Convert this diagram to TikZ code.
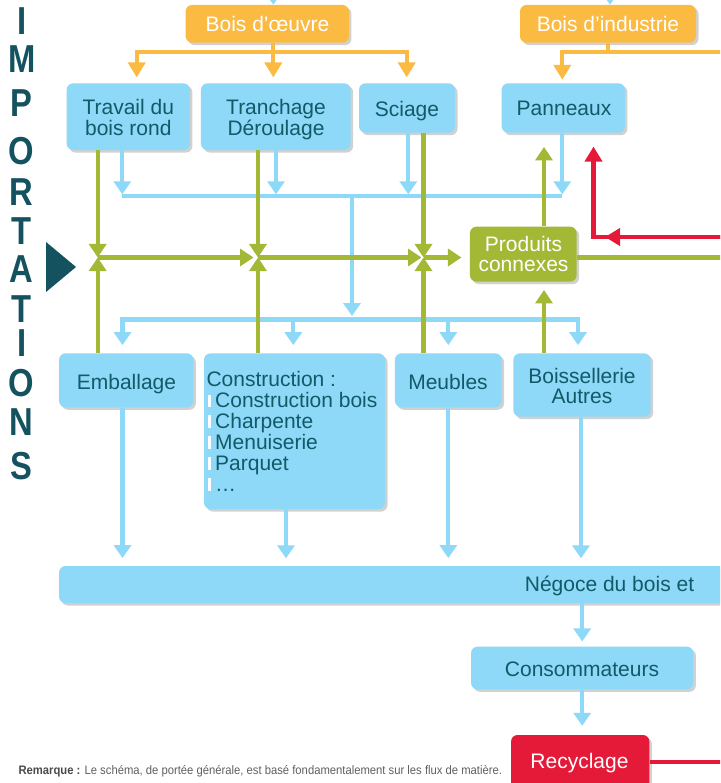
\documentclass[tikz,border=0pt]{standalone}
\usepackage{fontspec}
\usepackage{graphicx}
\setmainfont{Liberation Sans}
\usetikzlibrary{arrows.meta,shadows}
\definecolor{cblue}{HTML}{8ED8F8}
\definecolor{corange}{HTML}{FBBA42}
\definecolor{cgreen}{HTML}{A3B936}
\definecolor{cred}{HTML}{E41A38}
\definecolor{ctext}{HTML}{135A68}
\definecolor{cimp}{HTML}{14525F}
\definecolor{cgray}{HTML}{5F6062}
\definecolor{cgraydark}{HTML}{4A4B4D}
\newcommand\impl[1]{\scalebox{0.84}[1]{#1}}
\tikzset{
  box/.style={rounded corners=6.5pt, draw=none, inner sep=0pt,
    drop shadow={shadow xshift=2.5pt, shadow yshift=-2.5pt, opacity=0.18, fill=black}},
  bbox/.style={box, fill=cblue},
  obox/.style={box, fill=corange},
  gbox/.style={box, fill=cgreen},
  rbox/.style={box, fill=cred},
  txt/.style={anchor=base, inner sep=0pt, font=\fontsize{21}{21}\selectfont, text=ctext},
  ltxt/.style={txt, anchor=base west},
  wtxt/.style={txt, text=white},
  imp/.style={anchor=base, inner sep=0pt, font=\fontsize{39}{39}\selectfont\bfseries, text=cimp},
  bline/.style={line width=4.2pt, draw=cblue},
  barr/.style={bline, -{Triangle[width=17pt,length=13pt]}},
  gline/.style={line width=4.2pt, draw=cgreen},
  garr/.style={gline, -{Triangle[width=17pt,length=13.5pt]}},
  oline/.style={line width=4.2pt, draw=corange},
  oarr/.style={oline, -{Triangle[width=17pt,length=15pt]}},
  rline/.style={line width=4.2pt, draw=cred},
  rarr/.style={rline, -{Triangle[width=17pt,length=15pt]}},
}
\begin{document}
\begin{tikzpicture}[x=1pt,y=-1pt]
\fill[white] (0,0) rectangle (720,783);
\useasboundingbox (0,0) rectangle (720,783);
\begin{scope}
\clip (0,0) rectangle (720,783);

% ---------- boxes ----------
\node[obox, minimum width=163.3pt, minimum height=37.7pt] (oeuvre) at (267.3,23.8) {};
\node[obox, minimum width=176pt, minimum height=37.7pt] (industrie) at (608,23.8) {};
\node[bbox, minimum width=123.3pt, minimum height=66.7pt] (travail) at (128.3,116.7) {};
\node[bbox, minimum width=149.7pt, minimum height=66.7pt] (tranchage) at (275.8,116.7) {};
\node[bbox, minimum width=96pt, minimum height=49.4pt] (sciage) at (407,108) {};
\node[bbox, minimum width=123.3pt, minimum height=49.4pt] (panneaux) at (563.3,108) {};
\node[gbox, minimum width=106.7pt, minimum height=55pt] (produits) at (523.3,254.2) {};
\node[bbox, minimum width=134.3pt, minimum height=54pt] (emballage) at (126.2,380.3) {};
\node[bbox, minimum width=181pt, minimum height=155.7pt] (construction) at (294.5,431.2) {};
\node[bbox, minimum width=106.7pt, minimum height=54pt] (meubles) at (448.3,380.3) {};
\node[bbox, minimum width=137.3pt, minimum height=63.3pt] (boissellerie) at (582,385) {};
\node[bbox, minimum width=681pt, minimum height=37pt] (negoce) at (399.5,584.5) {};
\node[bbox, minimum width=222.3pt, minimum height=42.7pt] (consommateurs) at (582.2,668) {};
\node[rbox, minimum width=138.3pt, minimum height=54pt] (recyclage) at (580.2,762) {};

% ---------- texts ----------
\node[wtxt] (toeuvre) at (267.5,31.7) {Bois d’œuvre};
\node[wtxt] (tindustrie) at (608,31.7) {Bois d’industrie};
\node[txt] (ttravaila) at (128.3,115) {Travail du};
\node[txt] (ttravailb) at (128.3,135.5) {bois rond};
\node[txt] (ttranchagea) at (276,115) {Tranchage};
\node[txt] (ttranchageb) at (276,135.5) {Déroulage};
\node[txt] (tsciage) at (407,117) {Sciage};
\node[txt] (tpanneaux) at (564,116) {Panneaux};
\node[wtxt] (tproduitsa) at (523.5,252) {Produits};
\node[wtxt] (tproduitsb) at (523.5,272) {connexes};
\node[txt] (temballage) at (126.5,389.3) {Emballage};
\node[txt] (tmeubles) at (448,389) {Meubles};
\node[txt] (tboisa) at (582,383) {Boissellerie};
\node[txt] (tboisb) at (582,403.5) {Autres};
\node[txt] (tnegoce) at (609.5,591.7) {Négoce du bois et};
\node[txt] (tconso) at (582,676) {Consommateurs};
\node[wtxt] (trecyclage) at (579.5,768) {Recyclage};
% construction list
\node[ltxt] (tc0) at (206.3,386.7) {Construction :};
\node[ltxt] (tc1) at (215,407.5) {Construction bois};
\node[ltxt] (tc2) at (215,428.4) {Charpente};
\node[ltxt] (tc3) at (215,449.3) {Menuiserie};
\node[ltxt] (tc4) at (215,470.2) {Parquet};
\node[ltxt] (tc5) at (215,491.1) {…};
\foreach \b in {407.5,428.4,449.3,470.2,491.1}
  \fill[white] (208.3,\b-13) rectangle (210.7,\b-0.6);

% ---------- IMPORTATIONS ----------
\node[imp] (L1) at (21.7,35) {\impl{I}};
\node[imp] (L2) at (21.7,72.7) {\impl{M}};
\node[imp] (L3) at (21.7,117) {\impl{P}};
\node[imp] (L4) at (21.7,164.5) {\impl{O}};
\node[imp] (L5) at (21.7,206) {\impl{R}};
\node[imp] (L6) at (21.7,245) {\impl{T}};
\node[imp] (L7) at (21.7,283) {\impl{A}};
\node[imp] (L8) at (21.7,322.5) {\impl{T}};
\node[imp] (L9) at (21.7,356) {\impl{I}};
\node[imp] (L10) at (21.7,396) {\impl{O}};
\node[imp] (L11) at (21.7,435) {\impl{N}};
\node[imp] (L12) at (21.7,479.5) {\impl{S}};
\fill[cimp] (46,242) -- (76,267) -- (46,292) -- cycle;

% ---------- orange ----------
\coordinate (ol) at (136.7,51.7);
\coordinate (om) at (273.3,51.7);
\coordinate (or) at (406.7,51.7);
\coordinate (oi) at (562.3,51.7);
\coordinate (iout) at (740,51.7);
\draw[oarr, shorten >=5.7pt] (oeuvre.south -| om) |- (ol) -- (ol |- travail.north);
\draw[oarr, shorten >=5.7pt] (oeuvre.south -| om) |- (or) -- (or |- sciage.north);
\draw[oarr, shorten >=5.7pt] (oeuvre.south -| om) -- (om |- tranchage.north);
\draw[oline] (industrie.south) -- (industrie.south |- oi);
\draw[oarr, shorten >=3.3pt] (iout) -- (oi) -- (oi |- panneaux.north);

% blue stubs at top
\coordinate (s1) at (273.3,-30);
\coordinate (s2) at (610,-30);
\draw[barr] (s1) -- (s1 |- oeuvre.north);
\draw[barr] (s2) -- (s2 |- industrie.north);

% ---------- blue ----------
\coordinate (t1) at (122.3,196.3);
\coordinate (t2) at (276,196.3);
\coordinate (t3) at (408.3,196.3);
\coordinate (t4) at (562.3,196.3);
\coordinate (tm) at (352,196.3);
\coordinate (bm) at (352,319.5);
\draw[bline] (t1) -- (t4);
\draw[barr, shorten >=2pt] (travail.south -| t1) -- (t1);
\draw[barr, shorten >=2pt] (tranchage.south -| t2) -- (t2);
\draw[barr, shorten >=2pt] (sciage.south -| t3) -- (t3);
\draw[barr, shorten >=2pt] (panneaux.south -| t4) -- (t4);
\draw[barr, shorten >=3.5pt] (tm) -- (bm);
\coordinate (b1) at (122.5,319.5);
\coordinate (b2) at (293.3,319.5);
\coordinate (b3) at (448.3,319.5);
\coordinate (b4) at (578,319.5);
\draw[bline, line cap=rect] (b1) -- (b4);
\draw[barr, shorten >=8pt] (b1) -- (b1 |- emballage.north);
\draw[barr, shorten >=8pt] (b2) -- (b2 |- construction.north);
\draw[barr, shorten >=8pt] (b3) -- (b3 |- meubles.north);
\draw[barr, shorten >=8pt] (b4) -- (b4 |- boissellerie.north);
\coordinate (n2) at (286,566);
\coordinate (n4) at (581,566);
\draw[barr, shorten >=7.7pt] (emballage.south -| b1) -- (b1 |- negoce.north);
\draw[barr, shorten >=7.7pt] (construction.south -| n2) -- (n2);
\draw[barr, shorten >=7.7pt] (meubles.south -| b3) -- (b3 |- negoce.north);
\draw[barr, shorten >=7.7pt] (boissellerie.south -| n4) -- (n4);
\draw[barr, shorten >=5pt] (negoce.south -| consommateurs.north) -- (consommateurs.north);
\draw[barr, shorten >=9pt] (consommateurs.south) -- (consommateurs.south |- recyclage.north);

% ---------- green ----------
\coordinate (j1) at (97.7,257.5);
\coordinate (j2) at (258,257.5);
\coordinate (j3) at (423.5,257.5);
\coordinate (gx) at (544,257.5);
\coordinate (gout) at (740,257.5);
\draw[garr] (travail.south -| j1) -- (j1);
\draw[garr] (emballage.north -| j1) -- (j1);
\draw[garr] (tranchage.south -| j2) -- (j2);
\draw[garr] (construction.north -| j2) -- (j2);
\draw[garr] (sciage.south -| j3) -- (j3);
\draw[garr] (meubles.north -| j3) -- (j3);
\draw[garr, shorten >=4.5pt] (j1) -- (j2);
\draw[garr, shorten >=2pt] (j2) -- (j3);
\draw[garr, shorten >=8.3pt] (j3) -- (produits.west |- j3);
\draw[garr, shorten >=14pt] (produits.north -| gx) -- (panneaux.south -| gx);
\draw[garr, shorten >=8pt] (boissellerie.north -| gx) -- (produits.south -| gx);
\draw[gline] (produits.east |- j3) -- (gout);

% ---------- red ----------
\coordinate (rin) at (740,237);
\coordinate (rc) at (593.5,237);
\coordinate (rm) at (605,237);
\coordinate (rout) at (740,762);
\draw[rarr, shorten >=13.7pt] (rin) -- (rc) -- (rc |- panneaux.south);
\draw[rarr] (rin) -- (rm);
\draw[rline] (recyclage.east) -- (rout);
\end{scope}

% ---------- note ----------
\node[anchor=base west, inner sep=0pt, font=\fontsize{12.3}{13}\selectfont, text=cgray] (remarque) at (18.3,774.3)
  {\resizebox{483.5pt}{\height}{\textcolor{cgraydark}{\bfseries Remarque :} Le schéma, de portée générale, est basé fondamentalement sur les flux de matière.}};
\end{tikzpicture}
\end{document}
